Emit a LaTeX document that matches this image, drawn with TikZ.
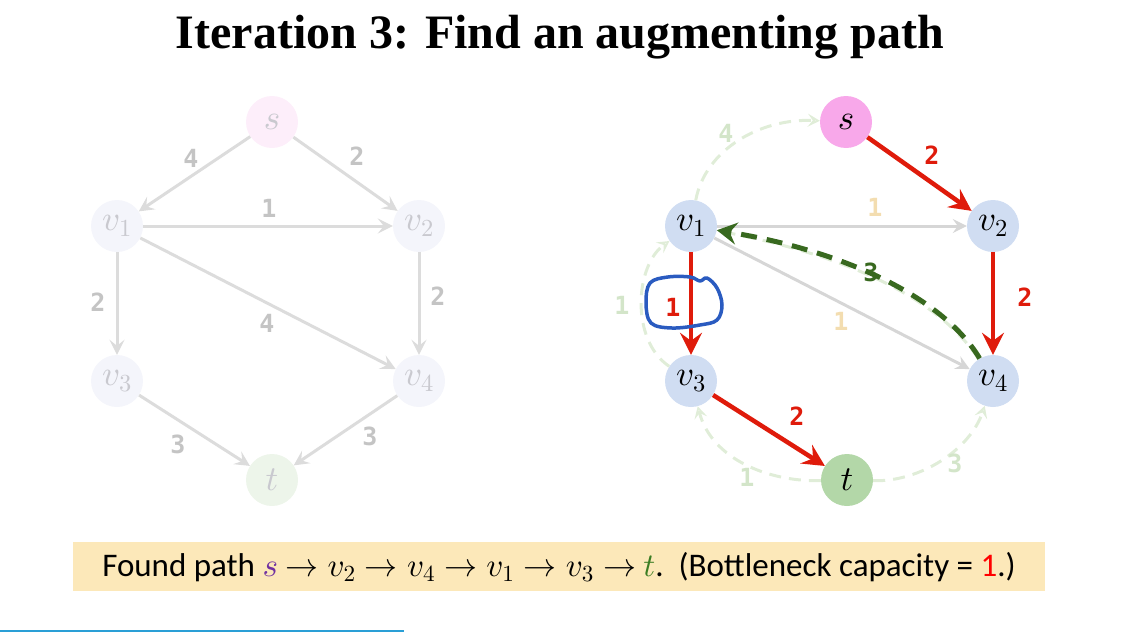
\documentclass[tikz,border=0pt]{standalone}
\usepackage{fontspec}
\usetikzlibrary{arrows.meta}
\DeclareFontShape{OML}{cmm}{m}{it}{<->cmmi10}{}
\DeclareFontShape{OMS}{cmsy}{m}{n}{<->cmsy10}{}
\DeclareFontShape{OT1}{cmr}{m}{n}{<->cmr10}{}
\setmainfont{Liberation Serif}
\newfontfamily\labfont{DejaVu Sans Mono}
\newfontfamily\boxfont{Carlito}
\definecolor{lgedge}{HTML}{DCDCDC}
\definecolor{lglab}{HTML}{C4C4C4}
\definecolor{lgtext}{HTML}{C9C9CF}
\definecolor{ls}{HTML}{FDEEFA}
\definecolor{lv}{HTML}{F4F5FB}
\definecolor{lt}{HTML}{EDF5EA}
\definecolor{rs}{HTML}{F8A8EA}
\definecolor{rv}{HTML}{D0DDF2}
\definecolor{rt}{HTML}{B3D7A8}
\definecolor{redE}{HTML}{DF1B0B}
\definecolor{grayE}{HTML}{D6D6D6}
\definecolor{orangeL}{HTML}{F3DDB0}
\definecolor{dgreen}{HTML}{38691F}
\definecolor{lgreen}{HTML}{E0EDD8}
\definecolor{lgreenL}{HTML}{D3E5C9}
\definecolor{blueS}{HTML}{2A5BC0}
\definecolor{boxc}{HTML}{FCE8B9}
\definecolor{lineb}{HTML}{2A9FD6}
\definecolor{purpS}{HTML}{7030A0}
\definecolor{greenT}{HTML}{3B7D23}
\tikzset{
  vtx/.style={circle, minimum size=52pt, inner sep=0pt, font=\fontsize{35}{38}\selectfont},
  ledge/.style={draw=lgedge, line width=3pt, -{Stealth[length=15pt,width=15pt,inset=6pt]}},
  llab/.style={text=lglab, font=\labfont\bfseries\fontsize{25}{27}\selectfont},
  redge/.style={draw=redE, line width=4.5pt, -{Stealth[length=22pt,width=22pt,inset=8pt]}},
  gedge/.style={draw=grayE, line width=3pt, -{Stealth[length=14pt,width=14pt,inset=5pt]}},
  resid/.style={draw=lgreen, line width=3pt, dash pattern=on 12pt off 8pt, -{Stealth[length=12pt,width=13pt,inset=5pt,open]}},
  rlab/.style={font=\labfont\bfseries\fontsize{25}{27}\selectfont},
}
\begin{document}
\begin{tikzpicture}[x=1pt,y=-1pt]
\useasboundingbox (0,0) rectangle (1128,632);
% title
\node (title) at (560,37) {\bfseries\fontsize{48}{52}\selectfont Iteration 3: Find an augmenting path};
% ---------- left graph ----------
\node[vtx, fill=ls, text=lgtext] (ls) at (272,122) {$s$};
\node[vtx, fill=lv, text=lgtext] (lv1) at (117,226) {$v_1$};
\node[vtx, fill=lv, text=lgtext] (lv2) at (419,226) {$v_2$};
\node[vtx, fill=lv, text=lgtext] (lv3) at (117,381) {$v_3$};
\node[vtx, fill=lv, text=lgtext] (lv4) at (419,381) {$v_4$};
\node[vtx, fill=lt, text=lgtext] (lt) at (272,480) {$t$};
\draw[ledge] (ls) -- (lv1);
\draw[ledge] (ls) -- (lv2);
\draw[ledge] (lv1) -- (lv2);
\draw[ledge] (lv1) -- (lv3);
\draw[ledge] (lv2) -- (lv4);
\draw[ledge] (lv1) -- (lv4);
\draw[ledge] (lv3) -- (lt);
\draw[ledge] (lv4) -- (lt);
\node[llab] (l1) at (191,158) {4};
\node[llab] (l2) at (357,156) {2};
\node[llab] (l3) at (269,208) {1};
\node[llab] (l4) at (98,302) {2};
\node[llab] (l5) at (438,296) {2};
\node[llab] (l6) at (267,323) {4};
\node[llab] (l7) at (178,444) {3};
\node[llab] (l8) at (370,436) {3};
% ---------- right graph ----------
\node[vtx, fill=rs] (s) at (846,122) {$s$};
\node[vtx, fill=rv] (v1) at (691,226) {$v_1$};
\node[vtx, fill=rv] (v2) at (993,226) {$v_2$};
\node[vtx, fill=rv] (v3) at (691,381) {$v_3$};
\node[vtx, fill=rv] (v4) at (993,381) {$v_4$};
\node[vtx, fill=rt] (t) at (847,480) {$t$};
% residual (light green dashed)
\draw[resid] (v1) .. controls (705,150) and (760,118) .. (s);
\draw[resid] (v3) .. controls (630,340) and (635,265) .. (v1);
\draw[resid] (t) .. controls (770,482) and (712,460) .. (v3);
\draw[resid] (t) .. controls (920,482) and (970,450) .. (v4);
\draw[draw=lgreen, line width=3pt, dash pattern=on 12pt off 8pt] (v4) .. controls (940,300) and (850,255) .. (v1);
% gray edges
\draw[gedge] (v1) -- (v2);
\draw[gedge] (v1) -- (v4);
% path edges
\draw[redge] (s) -- (v2);
\draw[redge] (v2) -- (v4);
\draw[redge] (v1) -- (v3);
\draw[redge] (v3) -- (t);
\draw[draw=dgreen, line width=5pt, dash pattern=on 16pt off 10pt, -{Stealth[length=20pt,width=22pt,inset=7pt]}] (v4) .. controls (945,300) and (850,252) .. (v1);
% labels
\node[rlab, text=lgreenL] (r1) at (726,133) {4};
\node[rlab, text=redE] (r2) at (932,155) {2};
\node[rlab, text=orangeL] (r3) at (875,207) {1};
\node[rlab, text=redE] (r4) at (1025,297) {2};
\node[rlab, text=lgreenL] (r5) at (622,305) {1};
\node[rlab, text=redE] (r6) at (673,307) {1};
\node[rlab, text=dgreen] (r7) at (871,272) {3};
\node[rlab, text=orangeL] (r8) at (841,321) {1};
\node[rlab, text=redE] (r9) at (797,416) {2};
\node[rlab, text=lgreenL] (r10) at (747,477) {1};
\node[rlab, text=lgreenL] (r11) at (955,463) {3};
% blue scribble
\draw[blueS, line width=3.5pt, line join=round] plot[smooth cycle, tension=0.6] coordinates
  {(650,283) (668,277) (690,277) (700,281) (707,278) (717,288) (722,305) (717,320) (700,325) (672,328) (651,323) (646,303)};
% bottom box
\node[fill=boxc, minimum width=972pt, minimum height=49pt, inner sep=0pt] (box) at (559,566) {};
\node[font=\boxfont\fontsize{33}{36}\selectfont] (boxtext) at (559,567)
  {Found path $\color{purpS}s$ $\rightarrow v_2\rightarrow v_4\rightarrow v_1\rightarrow v_3\rightarrow$ $\color{greenT}t$.\ \ (Bottleneck capacity = {\color{red}1}.)};
\draw[lineb, line width=1.5pt] (0,631) coordinate (la) -- (404,631) coordinate (lb);
\end{tikzpicture}
\end{document}
